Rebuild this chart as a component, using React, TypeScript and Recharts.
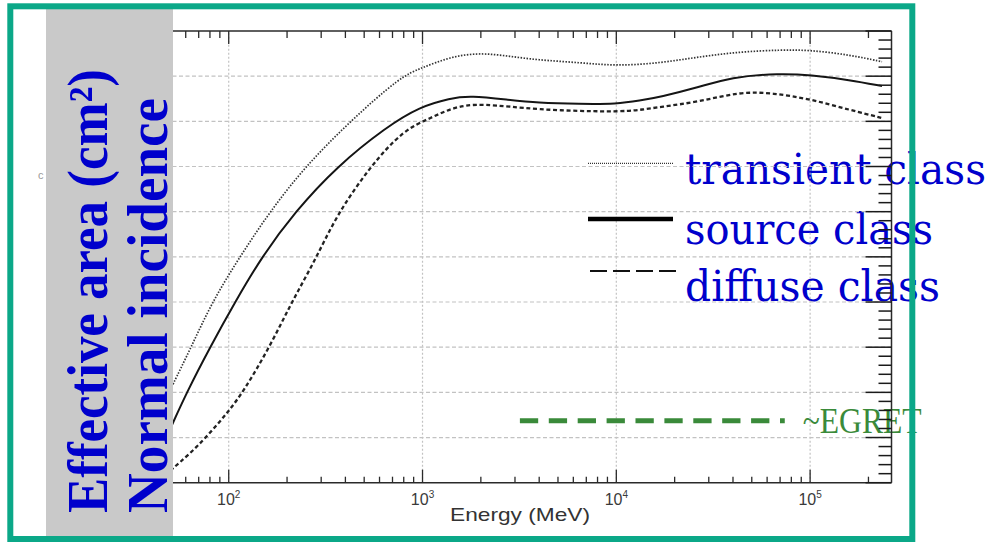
import React from 'react';
import { LineChart, Line, XAxis, YAxis, ReferenceLine } from 'recharts';

// ---- data (energy in MeV, effective area in cm^2) ----
const transientEnergy = [50, 64, 82, 114, 163, 248, 423, 774, 991, 1390, 1982, 2830, 3880, 6500, 10050, 16790, 26980, 43350, 70000, 100000, 160700, 235000];
const transientArea = [2060, 3000, 4000, 5000, 6000, 7000, 8000, 9000, 9180, 9430, 9520, 9440, 9360, 9300, 9225, 9290, 9430, 9540, 9580, 9580, 9470, 9320];

const sourceEnergy = [50, 60.7, 80.1, 107.9, 148, 220, 361, 653, 970, 1390, 1758, 2830, 3880, 6500, 10050, 13240, 16790, 26980, 38640, 70000, 100000, 160700, 235000];
const sourceArea = [1200, 2000, 3000, 4000, 5000, 6000, 7000, 7880, 8324, 8510, 8568, 8472, 8413, 8384, 8384, 8461, 8539, 8760, 8975, 9064, 9026, 8915, 8782];

const diffuseEnergy = [50, 63, 78.5, 99.5, 119, 163, 211, 279, 361, 536, 796, 1094, 1436, 1982, 3882, 10050, 13240, 16790, 26980, 43350, 64400, 100000, 160700, 235000];
const diffuseArea = [270, 640, 1056, 1572, 2015, 3011, 3994, 4920, 5930, 6996, 7808, 8067, 8311, 8406, 8251, 8207, 8251, 8317, 8435, 8656, 8627, 8495, 8251, 8074];

const egretEnergy = [3180, 74000];
const egretArea = [1370, 1370];

const decades = [100, 1000, 10000, 100000];
const decadeLabels = ['2', '3', '4', '5'];
const gridAreas = [1000, 2000, 3000, 4000, 5000, 6000, 7000, 8000, 9000];

const legendLabels = ['transient class', 'source class', 'diffuse class'];
const yTitleLines = ['Effective area (cm²)', 'Normal incidence'];
const xTitle = 'Energy (MeV)';
const egretLabel = '~EGRET';

// ---- axis setup ----
const xDomain: [number, number] = [Math.log10(40), Math.log10(263000)];
const decadeLogs = decades.map((d) => Math.log10(d));
const xTicks: number[] = [];
for (let d = 1; d <= 5; d++) {
  for (let m = 1; m <= 9; m++) {
    const v = Math.log10(m * Math.pow(10, d));
    if (v >= xDomain[0] - 1e-9 && v <= xDomain[1] + 1e-9) xTicks.push(v);
  }
}
const yTicks: number[] = [];
for (let v = 0; v <= 10000; v += 200) yTicks.push(v);

const toXY = (es: number[], vs: number[]) => es.map((e, i) => ({ x: Math.log10(e), y: vs[i] }));

const FONT_SANS = '"Liberation Sans", Arial, sans-serif';
const AXIS_COLOR = '#2a2a2a';
const TEAL = '#0BA888';
const BLUE = '#0000CC';
const GREEN = '#3A8A3A';

function majorIndex(v: number) {
  return decadeLogs.findIndex((d) => Math.abs(d - v) < 1e-6);
}

function BottomTick(props: any) {
  const { x, y, payload } = props;
  const idx = majorIndex(payload.value);
  const major = idx >= 0;
  return (
    <g>
      <line x1={x} y1={y} x2={x} y2={y - (major ? 13 : 6)} stroke={AXIS_COLOR} strokeWidth={1.3} />
      {major && (
        <text x={x} y={y + 22.3} textAnchor="middle" fontFamily={FONT_SANS} fontSize={16} fill="#3a3a3a">
          <tspan>10</tspan>
          <tspan dy={-7} fontSize={10}>{decadeLabels[idx]}</tspan>
        </text>
      )}
    </g>
  );
}

function TopTick(props: any) {
  const { x, y, payload } = props;
  const major = majorIndex(payload.value) >= 0;
  return <line x1={x} y1={y} x2={x} y2={y + (major ? 13 : 7)} stroke={AXIS_COLOR} strokeWidth={1.3} />;
}

function RightTick(props: any) {
  const { x, y, payload } = props;
  const major = payload.value % 1000 === 0;
  return <line x1={x} y1={y} x2={x - (major ? 26 : 13)} y2={y} stroke="#1a1a1a" strokeWidth={1.5} />;
}

export default function App() {
  const tData = toXY(transientEnergy, transientArea);
  const sData = toXY(sourceEnergy, sourceArea);
  const dData = toXY(diffuseEnergy, diffuseArea);
  const eData = toXY(egretEnergy, egretArea);

  return (
    <div style={{ position: 'absolute', left: 0, top: 0, width: 991, height: 543, background: '#fff', overflow: 'hidden' }}>
      {/* background text layer */}
      <svg width={991} height={543} style={{ position: 'absolute', left: 0, top: 0 }}>
        {legendLabels.map((t, i) => (
          <text
            key={t}
            x={685}
            y={[183.5, 243.5, 300.5][i]}
            fontFamily='"DejaVu Serif", serif'
            fontSize={43}
            fill={BLUE}
            textLength={[301, 248, 255][i]}
            lengthAdjust="spacingAndGlyphs"
          >
            {t}
          </text>
        ))}
        <text x={802.7} y={433} fontFamily='"Liberation Serif", serif' fontSize={35} fill={GREEN} textLength={119} lengthAdjust="spacingAndGlyphs">
          {egretLabel}
        </text>
        <text x={520} y={521} textAnchor="middle" fontFamily={FONT_SANS} fontSize={19} fill="#333" textLength={140} lengthAdjust="spacingAndGlyphs">
          {xTitle}
        </text>
      </svg>

      <div style={{ position: 'absolute', left: 0, top: 0 }}>
        <LineChart width={991} height={543} margin={{ top: 30, right: 98.5, bottom: 59.3, left: 151.6 }}>
          <XAxis
            xAxisId="bottom"
            type="number"
            dataKey="x"
            domain={xDomain}
            allowDataOverflow
            ticks={xTicks}
            interval={0}
            tickSize={0}
            tickMargin={0}
            height={1}
            tickLine={false}
            tick={(p: any) => <BottomTick {...p} />}
            axisLine={{ stroke: AXIS_COLOR, strokeWidth: 1.5 }}
          />
          <XAxis
            xAxisId="top"
            orientation="top"
            type="number"
            dataKey="x"
            domain={xDomain}
            allowDataOverflow
            ticks={xTicks}
            interval={0}
            tickSize={0}
            tickMargin={0}
            height={1}
            tickLine={false}
            tick={(p: any) => <TopTick {...p} />}
            axisLine={{ stroke: AXIS_COLOR, strokeWidth: 1.5 }}
          />
          <YAxis
            yAxisId="right"
            orientation="right"
            type="number"
            domain={[0, 10000]}
            allowDataOverflow
            ticks={yTicks}
            interval={0}
            tickSize={0}
            tickMargin={0}
            width={1}
            tickLine={false}
            tick={(p: any) => <RightTick {...p} />}
            axisLine={{ stroke: AXIS_COLOR, strokeWidth: 1.5 }}
          />
          {gridAreas.map((g) => (
            <ReferenceLine key={'h' + g} xAxisId="bottom" yAxisId="right" y={g} stroke="#c2c2c2" strokeWidth={1.2} strokeDasharray="4 2.5" />
          ))}
          {decadeLogs.map((d) => (
            <ReferenceLine key={'v' + d} xAxisId="bottom" yAxisId="right" x={d} stroke="#c2c2c2" strokeWidth={1.2} strokeDasharray="2 2" />
          ))}
          <Line
            xAxisId="bottom"
            yAxisId="right"
            data={tData}
            dataKey="y"
            type="basis"
            stroke="#333"
            strokeWidth={1.7}
            strokeDasharray="1.5 1.5"
            dot={false}
            activeDot={false}
            isAnimationActive={false}
            name="transient class"
          />
          <Line
            xAxisId="bottom"
            yAxisId="right"
            data={sData}
            dataKey="y"
            type="basis"
            stroke="#151515"
            strokeWidth={2}
            dot={false}
            activeDot={false}
            isAnimationActive={false}
            name="source class"
          />
          <Line
            xAxisId="bottom"
            yAxisId="right"
            data={dData}
            dataKey="y"
            type="basis"
            stroke="#222"
            strokeWidth={2.3}
            strokeDasharray="4 2.7"
            dot={false}
            activeDot={false}
            isAnimationActive={false}
            name="diffuse class"
          />
          <Line
            xAxisId="bottom"
            yAxisId="right"
            data={eData}
            dataKey="y"
            type="linear"
            stroke={GREEN}
            strokeWidth={5}
            strokeDasharray="18.3 10.6"
            dot={false}
            activeDot={false}
            isAnimationActive={false}
            name="~EGRET"
          />
        </LineChart>
      </div>

      {/* foreground layer */}
      <svg width={991} height={543} style={{ position: 'absolute', left: 0, top: 0, pointerEvents: 'none' }}>
        {/* legend samples */}
        <line x1={588} y1={163.3} x2={673} y2={163.3} stroke="#333" strokeWidth={1.3} strokeDasharray="1 1" />
        <line x1={588} y1={219} x2={673} y2={219} stroke="#000" strokeWidth={4.5} />
        <line x1={590} y1={271} x2={676} y2={271} stroke="#111" strokeWidth={2} strokeDasharray="17 6" />
        {/* stray glyph remnant */}
        <text x={38} y={179} fontFamily={FONT_SANS} fontSize={11} fill="#9a9a9a">c</text>
        {/* gray label box */}
        <rect x={46} y={7} width={127} height={529} fill="#C9C9C9" />
        {yTitleLines.map((t, i) => (
          <text
            key={t}
            transform={`translate(${[107, 166.7][i]}, 513) rotate(-90)`}
            x={0}
            y={0}
            fontFamily='"Liberation Serif", serif'
            fontWeight="bold"
            fontSize={56}
            fill={BLUE}
            textLength={[444, 415][i]}
            lengthAdjust="spacingAndGlyphs"
          >
            {t}
          </text>
        ))}
        {/* teal frame */}
        <rect x={10.3} y={6.3} width={902} height={532.7} fill="none" stroke={TEAL} strokeWidth={6} />
      </svg>
    </div>
  );
}
